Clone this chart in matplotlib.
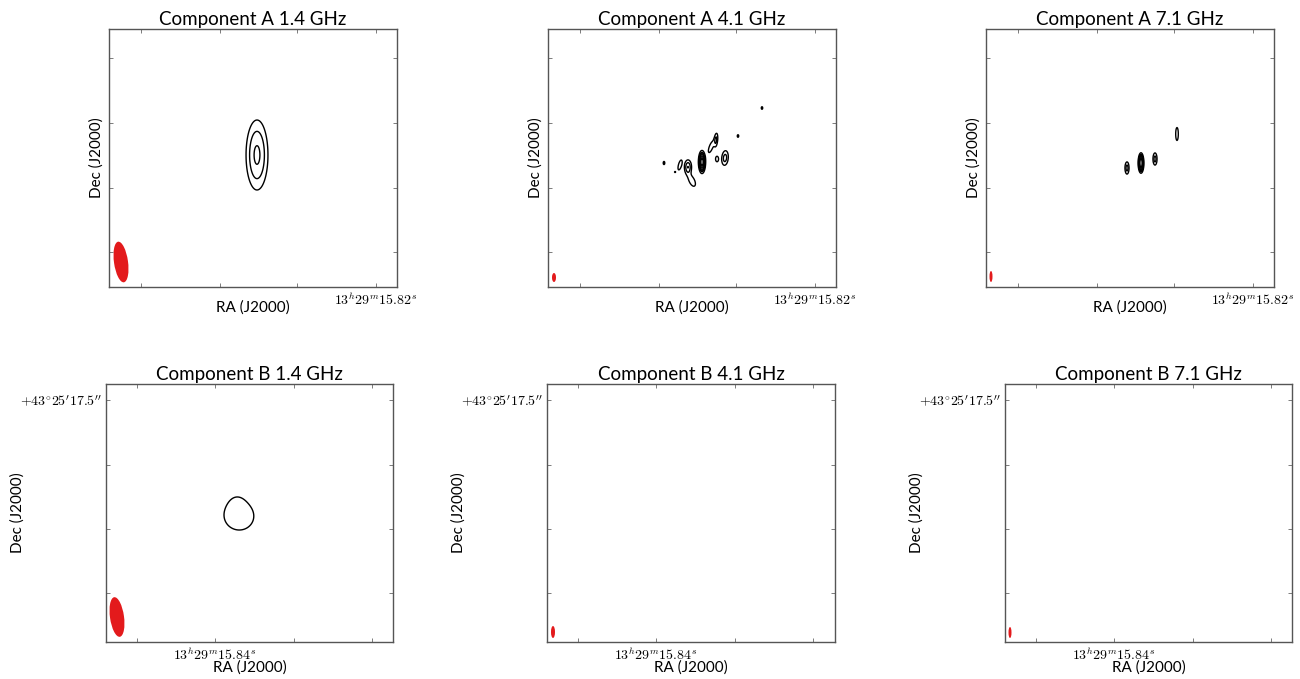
import numpy as np
import matplotlib.pyplot as plt
from matplotlib.patches import Ellipse

plt.rcParams['mathtext.fontset'] = 'cm'
plt.rcParams['font.family'] = ['Lato', 'DejaVu Sans']

# panel titles
titles = ['Component A 1.4 GHz', 'Component A 4.1 GHz', 'Component A 7.1 GHz',
          'Component B 1.4 GHz', 'Component B 4.1 GHz', 'Component B 7.1 GHz']

# tick labels
ra_label_a = r'$13^h29^m15.82^s$'
ra_label_b = r'$13^h29^m15.84^s$'
dec_label_b = r'$+43^{\circ}25^{\prime}17.5^{\prime\prime}$'

# source components (x, y offsets in map pixels, widths, peak, angle)
a1_x = [148]
a1_y = [132]
a1_sx = [5.1]
a1_sy = [16.3]
a1_amp = [1.0]
a1_pa = [0]
a1_levels = [0.1, 0.35, 0.85]

a2_x = [116, 127, 132, 140, 144, 154, 163, 168, 169, 177, 190, 214]
a2_y = [124, 115, 122, 120, 106, 125, 140, 147, 128, 129, 151, 179]
a2_sx = [1.1, 0.8, 1.6, 2.4, 2.6, 1.7, 1.7, 1.3, 1.6, 2.4, 1.0, 1.0]
a2_sy = [2.2, 0.8, 5.2, 4.8, 5.5, 5.4, 5.7, 5.2, 3.0, 5.4, 1.8, 1.8]
a2_amp = [1.3, 1.15, 1.6, 3.0, 1.7, 10.0, 1.7, 2.2, 1.5, 2.5, 1.3, 1.3]
a2_pa = [0, 0, -15, 0, 25, 0, -20, -5, 0, -5, 0, 0]
a2_levels = [1, 2, 3, 4, 6, 8]

a3_x = [141, 155, 169, 191]
a3_y = [119, 124, 128, 153]
a3_sx = [1.5, 1.3, 1.5, 1.1]
a3_sy = [4.5, 4.6, 4.5, 5.5]
a3_amp = [2.5, 12.0, 2.5, 2.0]
a3_pa = [0, 0, 0, 0]
a3_levels = [1, 2, 3, 4, 6, 8]

b1_x = [133, 131]
b1_y = [126, 138]
b1_sx = [9.5, 6.5]
b1_sy = [9.0, 7.5]
b1_amp = [1.0, 0.3]
b1_pa = [-10, 0]
b1_levels = [0.3]

# restoring beams (centre x, centre y, width, height, angle)
beam_x = [12, 6, 5, 11, 6, 5]
beam_y = [25, 9.5, 10.5, 25, 10, 9.5]
beam_w = [14, 4, 3, 14, 4, 3]
beam_h = [41, 9, 11, 40, 12, 11]
beam_pa = [8, 0, 0, 8, 0, 0]

W, H = 1300, 679
fig = plt.figure(figsize=(13, 6.79), dpi=100)

# axes boxes in pixels: left, top, right, bottom
boxes = [(109, 29, 397, 287), (548, 29, 836, 287), (986, 29, 1274, 287),
         (106, 384, 393, 642), (547, 384, 835, 642), (1005, 384, 1292, 642)]

gx = np.arange(0, 289, 0.5)
gy = np.arange(0, 260, 0.5)
XX, YY = np.meshgrid(gx, gy)


def model(xs, ys, sxs, sys_, amps, pas):
    img = np.zeros_like(XX)
    for x0, y0, sx, sy, a, pa in zip(xs, ys, sxs, sys_, amps, pas):
        t = np.deg2rad(pa)
        dx = XX - x0
        dy = YY - y0
        xr = dx * np.cos(t) + dy * np.sin(t)
        yr = -dx * np.sin(t) + dy * np.cos(t)
        img += a * np.exp(-0.5 * ((xr / sx) ** 2 + (yr / sy) ** 2))
    return img


maps = [
    (model(a1_x, a1_y, a1_sx, a1_sy, a1_amp, a1_pa), a1_levels),
    (model(a2_x, a2_y, a2_sx, a2_sy, a2_amp, a2_pa), a2_levels),
    (model(a3_x, a3_y, a3_sx, a3_sy, a3_amp, a3_pa), a3_levels),
    (model(b1_x, b1_y, b1_sx, b1_sy, b1_amp, b1_pa), b1_levels),
    None,
    None,
]

for i, (l, t, r, b) in enumerate(boxes):
    ax = fig.add_axes([l / W, (H - b) / H, (r - l) / W, (b - t) / H])
    w = r - l
    h = b - t
    ax.set_xlim(0, w)
    ax.set_ylim(0, h)

    if maps[i] is not None:
        img, levels = maps[i]
        ax.contour(XX, YY, img, levels=levels, colors='black', linewidths=1.0)

    ax.add_patch(Ellipse((beam_x[i], beam_y[i]), beam_w[i], beam_h[i], angle=beam_pa[i],
                         facecolor='#e31a1c', edgecolor='none'))

    if i < 3:
        ax.set_xticks([32, 111, 188, 267])
        ax.set_xticklabels(['', '', '', ra_label_a])
        ax.set_yticks([35, 99, 164, 229])
        ax.set_yticklabels([])
        ax.yaxis.set_label_coords(-5 / w, 0.5)
        ax.xaxis.set_label_coords(0.5, -13 / h)
    else:
        ax.set_xticks([31, 109, 188, 266])
        ax.set_xticklabels(['', ra_label_b, '', ''])
        ax.set_yticks([49, 113, 177, 242])
        ax.set_yticklabels(['', '', '', dec_label_b])
        ax.yaxis.set_label_coords(-81 / w, 0.5)
        ax.xaxis.set_label_coords(0.5, -18 / h)

    ax.tick_params(direction='in', length=3, width=0.6, color='#666666', labelsize=10,
                   top=True, right=True, pad=3)
    for s in ax.spines.values():
        s.set_color('#555555')
        s.set_linewidth(1.0)

    ax.set_title(titles[i], fontsize=13.5, pad=3)
    ax.set_xlabel('RA (J2000)', fontsize=11)
    ax.set_ylabel('Dec (J2000)', fontsize=11)

fig.savefig('out.png', dpi=100)
